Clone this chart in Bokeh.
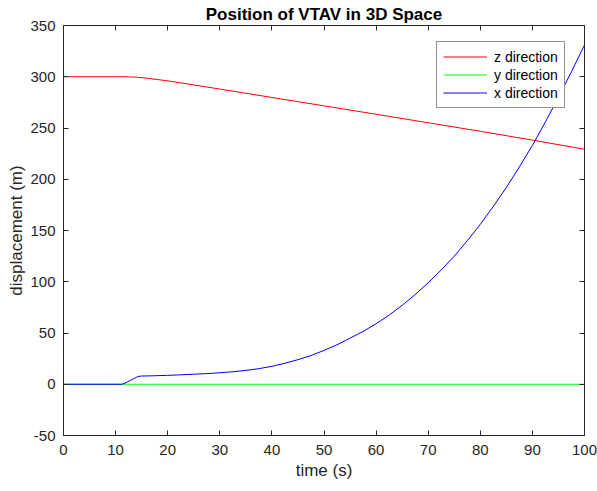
from bokeh.plotting import figure
from bokeh.models import LinearAxis, Legend, LegendItem, Range1d, FixedTicker, CustomJSTickFormatter
from bokeh.embed import file_html
from bokeh.resources import INLINE

# ---- data ----
t_z = [0, 10, 12, 14, 16, 18, 20, 30, 40, 50, 60, 70, 80, 90, 100]
z_pos = [300, 300, 300, 299.6, 298.6, 297.3, 296, 288, 279.8, 271.6, 263.4, 255.1, 246.8, 238.2, 229.3]

t_y = [0, 100]
y_pos = [0, 0]

t_x = [0, 11.2, 12, 13, 14, 14.5, 15, 17.5, 20, 22.5, 25, 27.5, 30, 32.5, 35, 37.5, 40,
       42.5, 45, 47.5, 50, 52.5, 55, 57.5, 60, 62.5, 65, 67.5, 70, 72.5, 75, 77.5, 80,
       82.5, 85, 87.5, 90, 92.5, 95, 97.5, 100]
x_pos = [0, 0, 1.5, 4.2, 6.8, 7.8, 8.0, 8.3, 8.7, 9.2, 9.8, 10.4, 11.2, 12.2, 13.5, 15.2, 17.5,
         20.5, 24, 28, 33, 38.5, 45, 51.5, 59, 67.5, 77, 87.5, 99, 111.5, 125, 140, 156,
         173.5, 192, 212, 233, 256, 280, 305, 331]

x_ticks = [0, 10, 20, 30, 40, 50, 60, 70, 80, 90, 100]
y_ticks = [-50, 0, 50, 100, 150, 200, 250, 300, 350]

title_text = "Position of VTAV in 3D Space"
x_label = "time (s)"
y_label = "displacement (m)"
series_names = ["z direction", "y direction", "x direction"]
series_colors = ["#ff0000", "#00ff00", "#0000ff"]

AX = "#262626"
FONT = "Liberation Sans"

p = figure(width=597, height=491, output_backend="svg", toolbar_location=None,
           x_range=Range1d(0, 100), y_range=Range1d(-50, 350),
           min_border_left=63, min_border_right=13, min_border_top=25, min_border_bottom=56,
           background_fill_color="white", border_fill_color="white")
p.grid.visible = False
p.outline_line_color = None

p.title.text = title_text
p.title.text_font = FONT
p.title.text_font_size = "17px"
p.title.text_font_style = "bold"
p.title.text_color = "black"
p.title.align = "center"
p.title.text_line_height = 0.8
p.title.standoff = 3
p.title.offset = 0

def style_axis(ax, ticks, show_labels=True):
    ax.ticker = FixedTicker(ticks=ticks)
    ax.axis_line_color = AX
    ax.axis_line_width = 1
    ax.major_tick_line_color = AX
    ax.major_tick_in = 5
    ax.major_tick_out = 0
    ax.minor_tick_line_color = None
    ax.major_label_text_font = FONT
    ax.major_label_text_color = AX
    ax.axis_label_text_font = FONT
    ax.axis_label_text_color = AX
    ax.axis_label_text_font_style = "normal"
    if show_labels:
        ax.major_label_text_font_size = "15px"
        ax.formatter = CustomJSTickFormatter(code="return tick.toString();")
    else:
        ax.major_label_text_font_size = "1px"
        ax.formatter = CustomJSTickFormatter(code="return '';")
        ax.major_label_standoff = 0

xa = p.xaxis[0]
style_axis(xa, x_ticks)
xa.major_label_standoff = 9
xa.axis_label = x_label
xa.axis_label_text_font_size = "17px"
xa.axis_label_standoff = 3

ya = p.yaxis[0]
style_axis(ya, y_ticks)
ya.major_label_standoff = 8
ya.axis_label = y_label
ya.axis_label_text_font_size = "17px"
ya.axis_label_standoff = 1

top = LinearAxis()
style_axis(top, x_ticks, show_labels=False)
p.add_layout(top, "above")
right = LinearAxis()
style_axis(right, y_ticks, show_labels=False)
p.add_layout(right, "right")

rz = p.line(t_z, z_pos, line_color=series_colors[0], line_width=1)
ry = p.line(t_y, y_pos, line_color=series_colors[1], line_width=1)
rx = p.line(t_x, x_pos, line_color=series_colors[2], line_width=1)

legend = Legend(items=[LegendItem(label=series_names[0], renderers=[rz]),
                       LegendItem(label=series_names[1], renderers=[ry]),
                       LegendItem(label=series_names[2], renderers=[rx])],
                location=(373, 327))
legend.label_text_font = FONT
legend.label_text_font_size = "14px"
legend.label_text_color = "black"
legend.border_line_color = AX
legend.border_line_width = 1
legend.background_fill_color = "white"
legend.background_fill_alpha = 1
legend.padding = 6
legend.margin = 0
legend.spacing = 1
legend.glyph_width = 44
legend.glyph_height = 17
legend.label_height = 17
legend.label_standoff = 7
p.add_layout(legend, "center")

open("out.html", "w").write(file_html(p, INLINE))
